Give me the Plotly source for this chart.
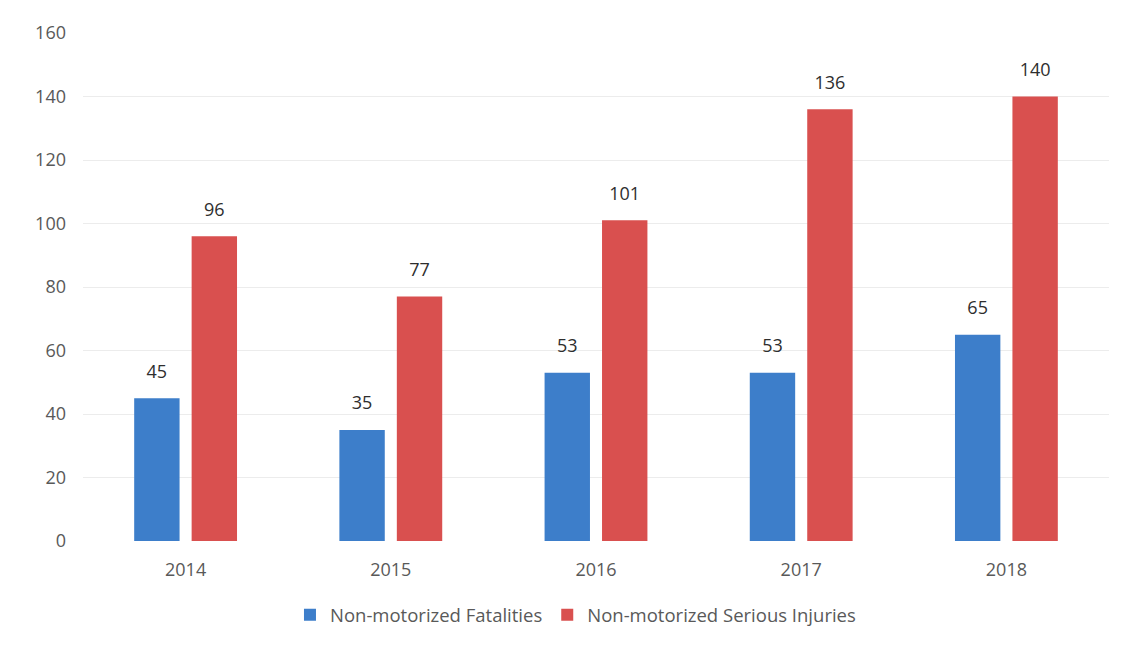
import plotly.graph_objects as go

years = ["2014", "2015", "2016", "2017", "2018"]
fatalities = [45, 35, 53, 53, 65]
serious_injuries = [96, 77, 101, 136, 140]
y_ticks = [0, 20, 40, 60, 80, 100, 120, 140, 160]

blue = "#3D7ECA"
red = "#D9504F"
FONT = "Open Sans, Liberation Sans, sans-serif"
label_font = dict(family=FONT, size=18, color="#2e2e2e")
BARGAP = 0.44

fig = go.Figure()
fig.add_trace(go.Bar(
    x=years, y=fatalities, name="Non-motorized Fatalities",
    marker=dict(color=blue, line=dict(width=0)),
))
fig.add_trace(go.Bar(
    x=years, y=serious_injuries, name="Non-motorized Serious Injuries",
    marker=dict(color=red, line=dict(width=0)),
))
# value labels, grouped like the bars
for vals in (fatalities, serious_injuries):
    fig.add_trace(go.Scatter(
        x=years, y=vals, mode="markers+text", text=vals, textposition="top center",
        textfont=label_font, marker=dict(size=24, color="rgba(0,0,0,0)"),
        showlegend=False, hoverinfo="skip", cliponaxis=False,
    ))

fig.update_layout(
    width=1127, height=646,
    margin=dict(l=75, r=26, t=25, b=113, autoexpand=False),
    paper_bgcolor="white", plot_bgcolor="white",
    barmode="group", bargap=BARGAP, bargroupgap=0.21,
    scattermode="group", scattergap=BARGAP,
    font=dict(family=FONT, size=18, color="#595959"),
    showlegend=True,
    legend=dict(orientation="h", x=0.48, xanchor="center", y=-0.146, yanchor="middle",
                font=dict(size=18.5, color="#595959"), itemwidth=30, tracegroupgap=0),
    xaxis=dict(showgrid=False, showline=False, ticks="", ticklabelstandoff=16,
               tickfont=dict(size=18, color="#595959")),
    yaxis=dict(range=[0, 160], tickvals=y_ticks, showgrid=True, gridcolor="#ececec",
               gridwidth=1, zeroline=False, showline=False, ticks="", ticklabelstandoff=16,
               tickfont=dict(size=18, color="#595959")),
)

fig.write_html("out.html")
